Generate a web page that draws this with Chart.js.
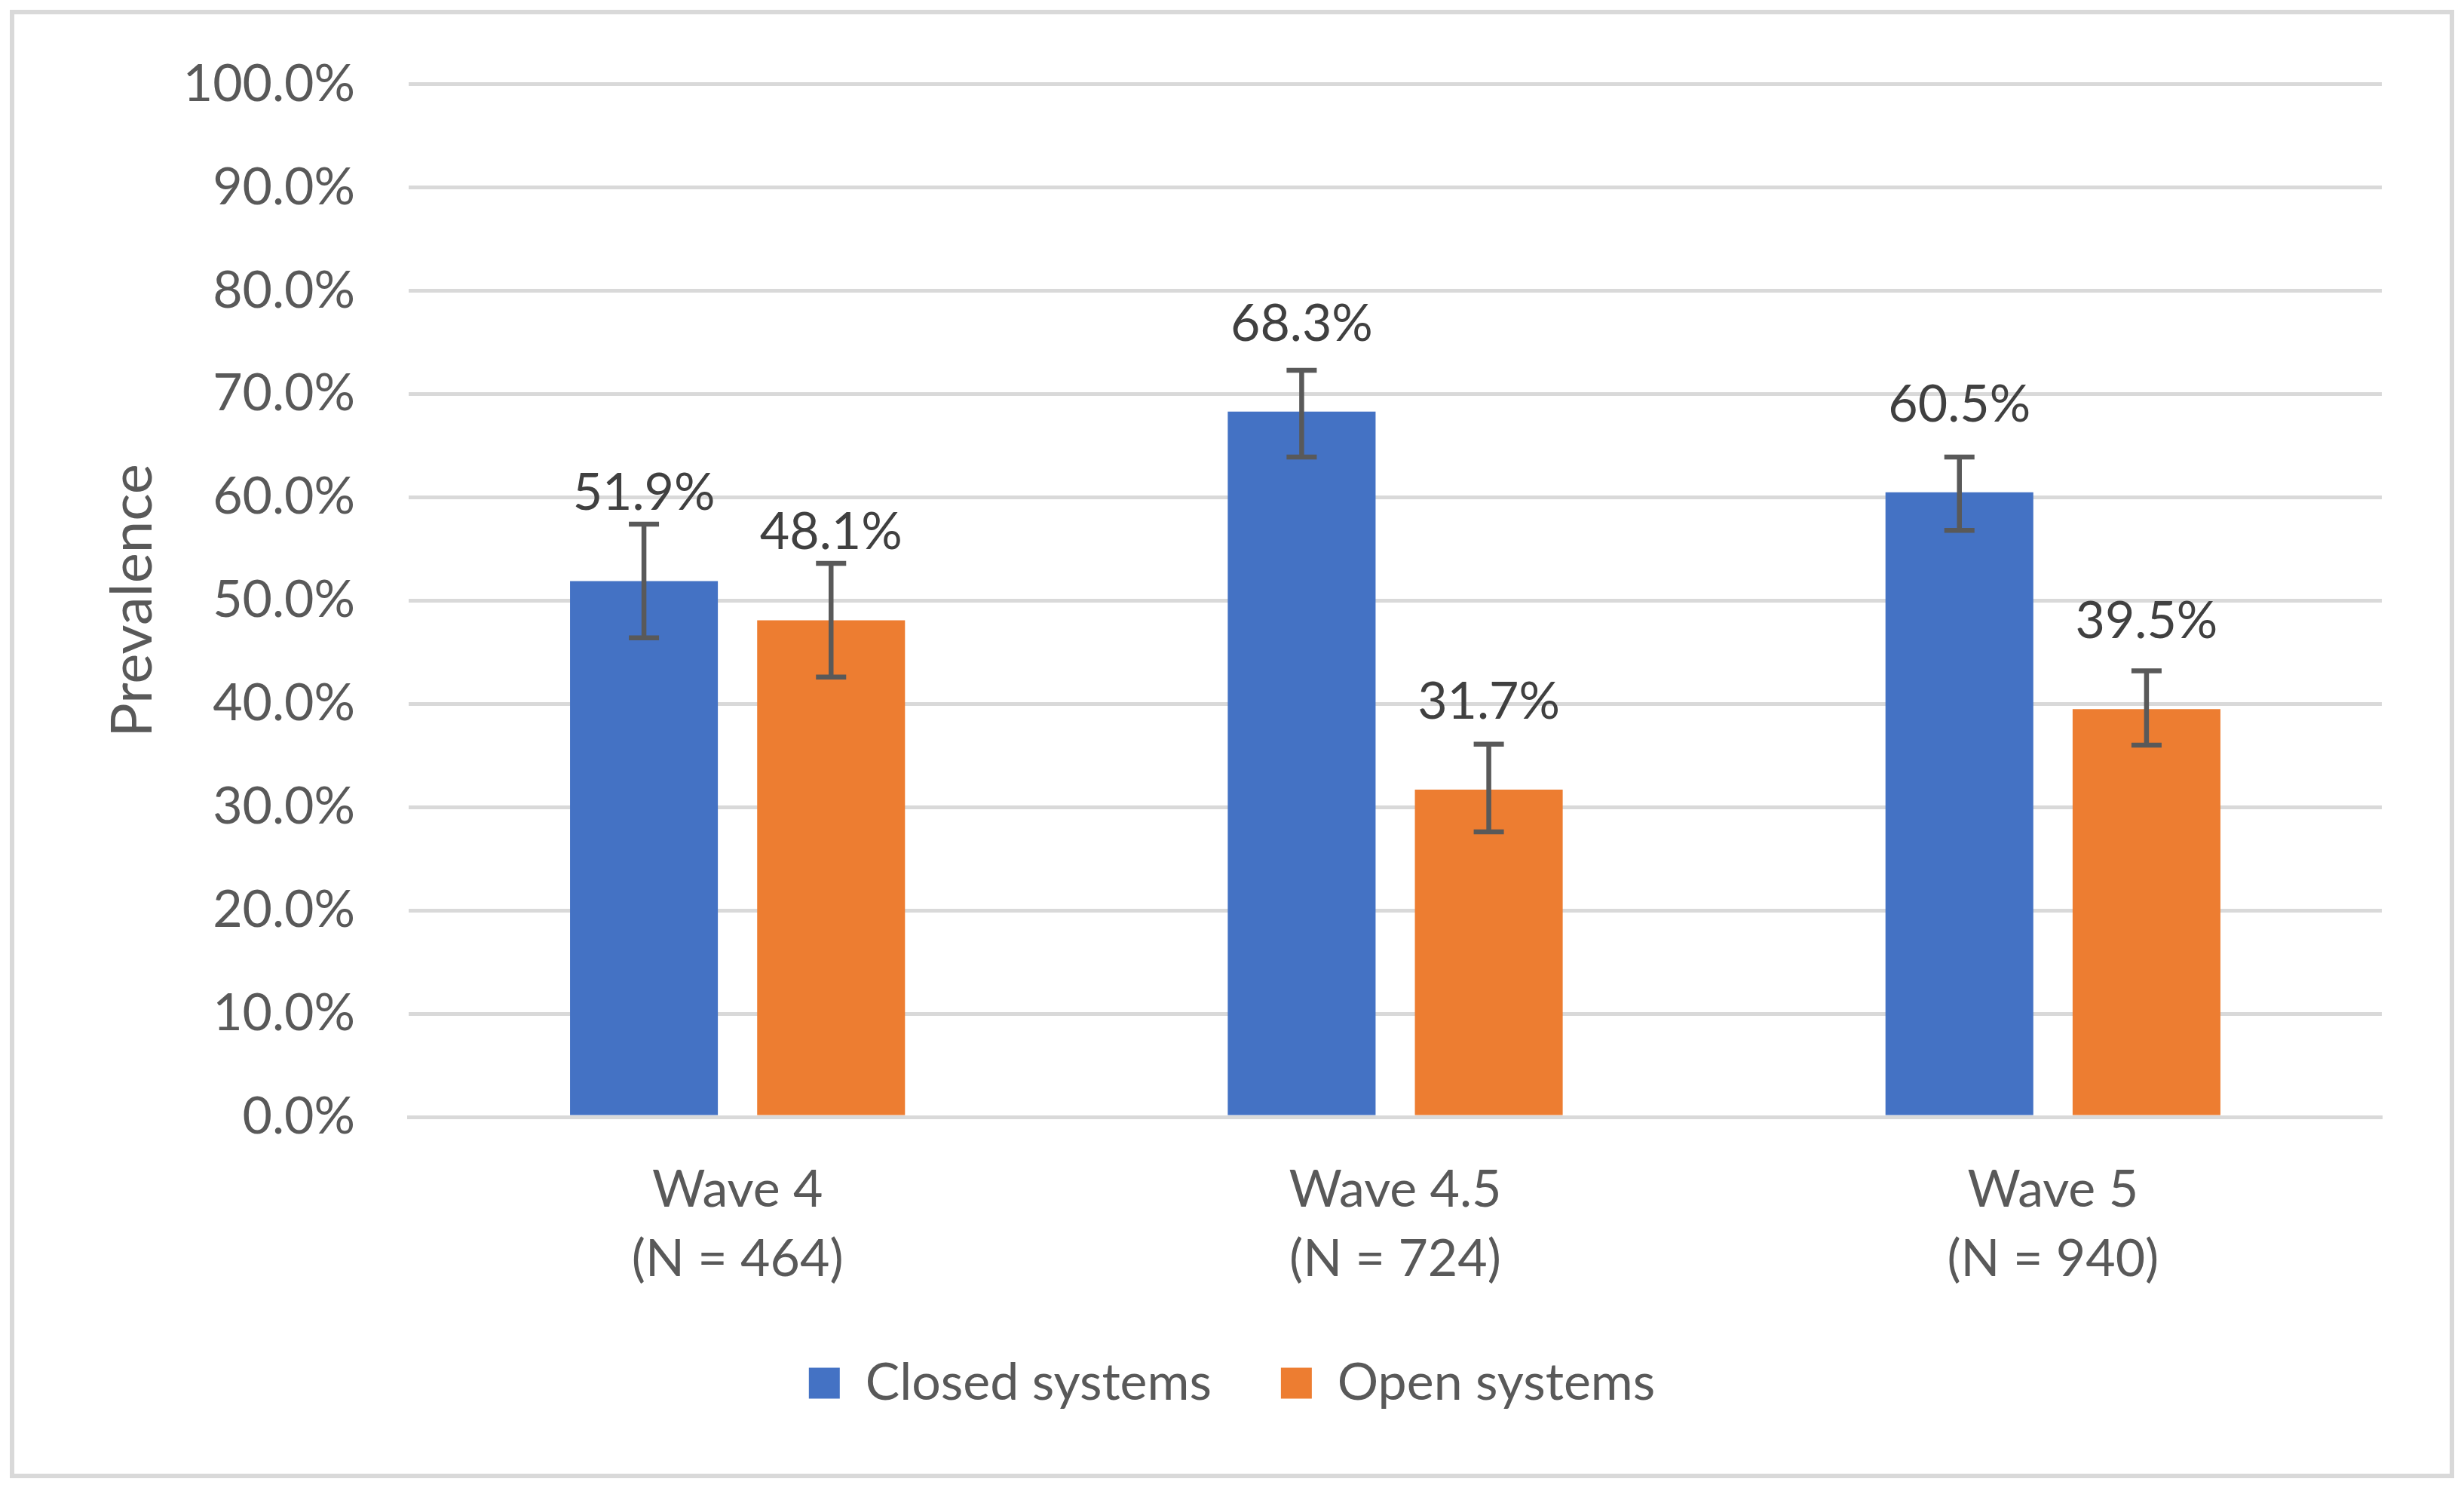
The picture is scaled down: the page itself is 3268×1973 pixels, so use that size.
<!DOCTYPE html>
<html>
<head>
<meta charset="utf-8">
<script src="https://cdn.jsdelivr.net/npm/chart.js@4.4.1/dist/chart.umd.min.js"></script>
<style>
  html, body { margin: 0; padding: 0; background: #ffffff; }
  #wrap { width: 3268px; height: 1973px; }
</style>
</head>
<body>
<div id="wrap"><canvas id="c" width="3268" height="1973"></canvas></div>
<script>
// ---- data ----
const categories = [["Wave 4", "(N = 464)"], ["Wave 4.5", "(N = 724)"], ["Wave 5", "(N = 940)"]];
const seriesNames = ["Closed systems", "Open systems"];
const closedValues = [51.9, 68.3, 60.5];
const openValues = [48.1, 31.7, 39.5];
const closedLower = [46.4, 63.9, 56.8];
const closedUpper = [57.4, 72.3, 63.9];
const openLower = [42.6, 27.6, 36.0];
const openUpper = [53.6, 36.1, 43.2];
const yTicks = [0, 10, 20, 30, 40, 50, 60, 70, 80, 90, 100];

const FONT = "Lato, 'Open Sans', 'DejaVu Sans', sans-serif";
const errorRanges = [[closedLower, closedUpper], [openLower, openUpper]];

const borderPlugin = {
  id: 'outerBorder',
  beforeDraw(chart) {
    const ctx = chart.ctx;
    ctx.save();
    ctx.fillStyle = '#ffffff';
    ctx.fillRect(0, 0, chart.width, chart.height);
    ctx.strokeStyle = '#D9D9D9';
    ctx.lineWidth = 6;
    ctx.strokeRect(16, 16, chart.width - 32, chart.height - 32);
    ctx.restore();
  }
};

const errorBarPlugin = {
  id: 'errorBars',
  afterDatasetsDraw(chart) {
    const ctx = chart.ctx;
    const y = chart.scales.y;
    ctx.save();
    ctx.strokeStyle = '#595959';
    ctx.lineWidth = 6.5;
    ctx.lineCap = 'butt';
    chart.data.datasets.forEach((ds, di) => {
      const meta = chart.getDatasetMeta(di);
      const [lo, hi] = errorRanges[di];
      meta.data.forEach((bar, i) => {
        const x = bar.x;
        const yl = y.getPixelForValue(lo[i]);
        const yh = y.getPixelForValue(hi[i]);
        const half = 20;
        ctx.beginPath();
        ctx.moveTo(x, yl); ctx.lineTo(x, yh);
        ctx.moveTo(x - half, yh); ctx.lineTo(x + half, yh);
        ctx.moveTo(x - half, yl); ctx.lineTo(x + half, yl);
        ctx.stroke();
      });
    });
    // data labels
    ctx.fillStyle = '#404040';
    ctx.font = "68px " + FONT;
    ctx.textAlign = 'center';
    ctx.textBaseline = 'alphabetic';
    chart.data.datasets.forEach((ds, di) => {
      const meta = chart.getDatasetMeta(di);
      meta.data.forEach((bar, i) => {
        ctx.fillText(ds.data[i].toFixed(1) + '%', bar.x, bar.y - 94);
      });
    });
    ctx.restore();
  }
};

new Chart(document.getElementById('c'), {
  type: 'bar',
  data: {
    labels: categories,
    datasets: [
      { label: seriesNames[0], data: closedValues, backgroundColor: '#4472C4', borderWidth: 0 },
      { label: seriesNames[1], data: openValues, backgroundColor: '#ED7D31', borderWidth: 0 }
    ]
  },
  options: {
    responsive: false,
    devicePixelRatio: 1,
    animation: false,
    categoryPercentage: 0.569,
    barPercentage: 0.79,
    layout: { padding: { left: 109, right: 109, top: 106, bottom: 95 } },
    plugins: {
      tooltip: { enabled: false },
      legend: {
        position: 'bottom',
        labels: {
          boxWidth: 41,
          boxHeight: 41,
          padding: 92,
          color: '#595959',
          font: { family: FONT, size: 68 }
        }
      }
    },
    scales: {
      x: {
        grid: { display: false, drawTicks: false },
        border: { display: true, color: '#D9D9D9', width: 5 },
        ticks: {
          color: '#595959',
          padding: 52,
          maxRotation: 0,
          font: { family: FONT, size: 68, lineHeight: 1.34 }
        },
        afterFit(scale) { scale.height = 227; }
      },
      y: {
        min: 0,
        max: 100,
        afterBuildTicks(scale) { scale.ticks = yTicks.map(v => ({ value: v })); },
        grid: { color: '#D9D9D9', lineWidth: 5, drawTicks: false },
        border: { display: false },
        ticks: {
          color: '#595959',
          padding: 71,
          font: { family: FONT, size: 68 },
          callback: (v) => Number(v).toFixed(1) + '%'
        },
        title: {
          display: true,
          text: 'Prevalence',
          color: '#595959',
          font: { family: FONT, size: 76 },
          padding: { top: 22, bottom: 0 }
        },
        afterFit(scale) { scale.width = 433; }
      }
    }
  },
  plugins: [borderPlugin, errorBarPlugin]
});
</script>
</body>
</html>
